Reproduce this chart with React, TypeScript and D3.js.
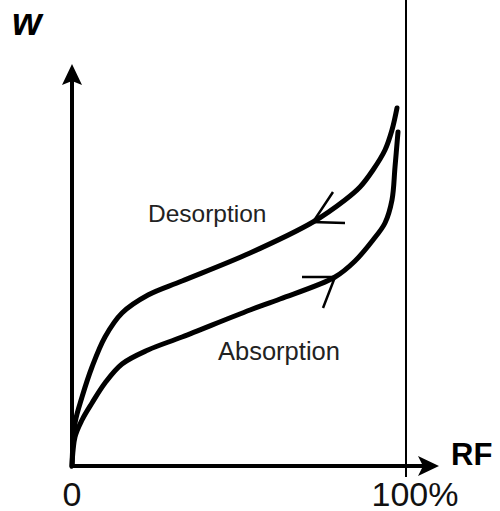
import React from "react";
import * as d3 from "d3";

const desorptionRF = [0, 0.9, 2.99, 5.97, 9.85, 14.93, 22.69, 32.84, 53.13, 71.94, 81.49, 85.97, 89.85, 93.43, 95.52, 97.01];
const desorptionW = [0, 10.75, 17.25, 24.75, 32.25, 38.25, 42.75, 46.25, 53.25, 61, 66.5, 69.75, 74, 79, 84, 89.5];
const absorptionRF = [0, 0.9, 2.99, 5.97, 9.85, 14.93, 22.69, 32.84, 53.13, 62.09, 78.51, 84.48, 89.85, 93.43, 95.52, 96.42, 97.31];
const absorptionW = [0, 7.25, 11.5, 15.75, 20.75, 25.5, 29, 32.25, 39, 41.75, 47.25, 51.25, 56.5, 60.75, 66.5, 74.75, 83.5];
const xTickLabels = ["0", "100%"];
const xTickValues = [0, 100];
const seriesLabels = ["Desorption", "Absorption"];

export default function App() {
  const W = 500, H = 511;
  const x = d3.scaleLinear().domain([0, 100]).range([72, 407]);
  const y = d3.scaleLinear().domain([0, 100]).range([466, 66]);
  const line = d3
    .line<[number, number]>()
    .x((d) => x(d[0]))
    .y((d) => y(d[1]))
    .curve(d3.curveCatmullRom.alpha(0.5));
  const des: [number, number][] = desorptionRF.map((r, i) => [r, desorptionW[i]]);
  const abs: [number, number][] = absorptionRF.map((r, i) => [r, absorptionW[i]]);

  const desA = [x(desorptionRF[9]), y(desorptionW[9])];
  const absA = [x(absorptionRF[10]), y(absorptionW[10])];
  const font = "Liberation Sans, Arial, sans-serif";

  return (
    <svg width={W} height={H} style={{ position: "absolute", left: 0, top: 0, background: "#fff" }}>
      <line x1={x(100) - 1} x2={x(100) - 1} y1={0} y2={477} stroke="#000" strokeWidth={2} />
      <line x1={x(0)} x2={x(0)} y1={y(0)} y2={y(100) + 12} stroke="#000" strokeWidth={4} />
      <path d={`M${x(0)},${y(100) - 2} L${x(0) - 10},${y(100) + 19} L${x(0)},${y(100) + 15} L${x(0) + 10},${y(100) + 19} Z`} fill="#000" />
      <line x1={x(0) - 2} x2={425} y1={y(0)} y2={y(0)} stroke="#000" strokeWidth={4} />
      <path d={`M439,${y(0)} L418,${y(0) - 10} L423,${y(0)} L418,${y(0) + 10} Z`} fill="#000" />
      <path d={line(des) || ""} fill="none" stroke="#000" strokeWidth={5} strokeLinecap="round" />
      <path d={line(abs) || ""} fill="none" stroke="#000" strokeWidth={5} strokeLinecap="round" />
      <path d={`M${desA[0] + 20},${desA[1] - 30} L${desA[0]},${desA[1]} L${desA[0] + 32},${desA[1] + 1}`} fill="none" stroke="#000" strokeWidth={2.5} />
      <path d={`M${absA[0] - 33},${absA[1]} L${absA[0]},${absA[1]} L${absA[0] - 12},${absA[1] + 31}`} fill="none" stroke="#000" strokeWidth={2.5} />
      <text x={148} y={222} fontFamily={font} fontSize={24.5} fill="#222">{seriesLabels[0]}</text>
      <text x={218} y={360} fontFamily={font} fontSize={25.5} fill="#222">{seriesLabels[1]}</text>
      <text x={12} y={35} fontFamily={font} fontSize={38} fontWeight="bold" fontStyle="italic">w</text>
      <text x={451} y={465} fontFamily={font} fontSize={31} fontWeight="bold">RF</text>
      {xTickValues.map((v, i) => (
        <text key={i} x={x(v) + (i === 1 ? 8 : 0)} y={506} textAnchor="middle" fontFamily={font} fontSize={34} fill="#111">
          {xTickLabels[i]}
        </text>
      ))}
    </svg>
  );
}
